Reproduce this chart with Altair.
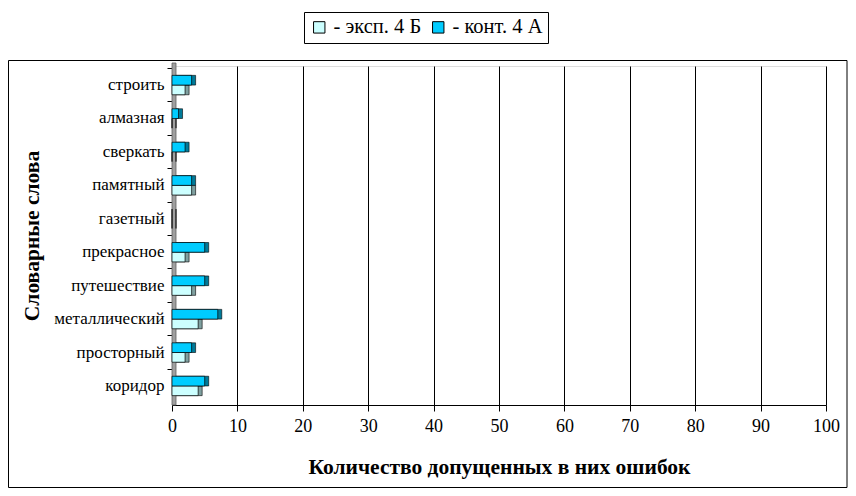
import altair as alt
import pandas as pd

words = ["строить", "алмазная", "сверкать", "памятный", "газетный",
         "прекрасное", "путешествие", "металлический", "просторный", "коридор"]
eksp = [2, 0, 0, 3, 0, 2, 3, 4, 2, 4]
kont = [3, 1, 2, 3, 0, 5, 5, 7, 3, 5]
series = ["эксп. 4 Б", "конт. 4 А"]
colors = ["#CCFFFF", "#00CCFF"]
shades = ["#7FA0A0", "#007A99"]
x_ticks = [0, 10, 20, 30, 40, 50, 60, 70, 80, 90, 100]

rows = []
for w, e, k in zip(words, eksp, kont):
    rows.append({"word": w, "series": series[0], "value": e, "shade": shades[0]})
    rows.append({"word": w, "series": series[1], "value": k, "shade": shades[1]})
df = pd.DataFrame(rows)

FONT = "Liberation Serif"

y_scale = alt.Scale(paddingInner=0.42, paddingOuter=0.28)
y_enc = alt.Y("word:N", sort=words, scale=y_scale,
              axis=alt.Axis(orient="left", title="Словарные слова", ticks=False, domain=False,
                            labelFontSize=17, labelFont=FONT, labelColor="black",
                            labelFontWeight="normal",
                            labelPadding=8, titleFont=FONT, titleFontSize=21.5,
                            titleFontWeight="bold", titleColor="black", titlePadding=10))
y_plain = alt.Y("word:N", sort=words, scale=y_scale, axis=None)
y_off = alt.YOffset("series:N", sort=[series[1], series[0]])
x_enc = alt.X("value:Q", scale=alt.Scale(domain=[0, 100], nice=False),
              axis=alt.Axis(values=x_ticks, grid=True, gridColor="black", gridOpacity=1,
                            gridWidth=1, tickColor="black", tickSize=6,
                            domainColor="black", labelFontSize=18, labelFont=FONT,
                            labelColor="black", labelPadding=6, labelFlush=False,
                            title="Количество допущенных в них ошибок",
                            titleFont=FONT, titleFontSize=21.5, titleFontWeight="bold",
                            titleColor="black", titlePadding=21))

base = alt.Chart(df)

shadow = base.mark_bar(xOffset=4, x2Offset=4, yOffset=-3, y2Offset=-3,
                       stroke="black", strokeWidth=0.6).encode(
    y=y_plain, yOffset=y_off, x=x_enc,
    color=alt.Color("shade:N", scale=None, legend=None))

bars = base.mark_bar(stroke="black", strokeWidth=0.7).encode(
    y=y_enc, yOffset=y_off, x=x_enc,
    color=alt.Color("series:N", sort=series,
                    scale=alt.Scale(domain=series, range=colors),
                    legend=alt.Legend(title=None, orient="none", legendX=132, legendY=-54,
                                      direction="horizontal", strokeColor="black",
                                      fillColor="white", padding=5, labelFont=FONT,
                                      labelFontSize=20.5, labelColor="black",
                                      labelExpr="'- ' + datum.label",
                                      symbolType="square", symbolSize=130,
                                      symbolStrokeColor="black", symbolStrokeWidth=1,
                                      columnPadding=6, labelOffset=4)))

tick_axis = base.mark_bar(opacity=0).encode(
    y=alt.Y("word:N", sort=words, scale=y_scale,
            axis=alt.Axis(orient="left", title=None, labels=False, domain=False,
                          bandPosition=-0.36, ticks=True, tickSize=5, tickColor="black")),
    x=x_enc)

wall = alt.Chart(alt.Data(values=[{}])).mark_rect(color="#A0A0A0", stroke="#606060",
                                                  strokeWidth=0.8).encode(
    x=alt.value(0), x2=alt.value(4), y=alt.value(-3), y2=alt.value(339))

frame = alt.Chart(alt.Data(values=[{}])).mark_rect(fillOpacity=0, stroke="black",
                                                   strokeWidth=1).encode(
    x=alt.value(-163.5), x2=alt.value(675), y=alt.value(-5.5), y2=alt.value(421.5))

chart = alt.layer(frame, wall, shadow, bars, tick_axis).resolve_axis(
    y="independent").resolve_scale(color="independent").properties(
    width=654, height=339,
    autosize=alt.AutoSizeParams(type="none"),
    padding={"left": 164, "top": 58, "right": 22, "bottom": 83},
).configure_view(stroke="#808080", strokeWidth=1).configure(background="white")

chart.save("out.html", embed_options={"renderer": "svg", "actions": False})
